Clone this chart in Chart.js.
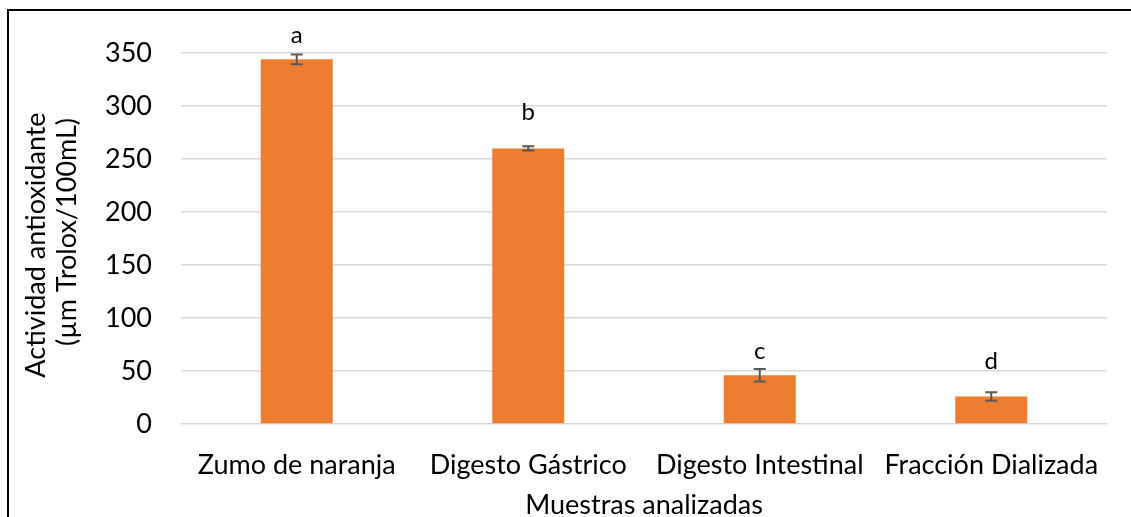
<!DOCTYPE html>
<html>
<head>
<meta charset="utf-8">
<script src="https://cdn.jsdelivr.net/npm/chart.js@4/dist/chart.umd.min.js"></script>
<style>
  html, body { margin: 0; padding: 0; background: #fff; overflow: hidden; }
  #wrap { position: relative; width: 1131px; height: 517px; }
  canvas { display: block; }
</style>
</head>
<body>
<div id="wrap"><canvas id="c" width="1131" height="517"></canvas></div>
<script>
// Antioxidant activity of orange juice through in-vitro digestion
const categories = ['Zumo de naranja', 'Digesto Gástrico', 'Digesto Intestinal', 'Fracción Dializada'];
const activity = [344, 260, 46, 26];          // µm Trolox/100mL
const activityError = [4.5, 2, 6, 4];         // ± standard deviation
const groupLetters = ['a', 'b', 'c', 'd'];    // significance groups
const yTicks = [0, 50, 100, 150, 200, 250, 300, 350];

const FONT = 'Lato, "Open Sans", sans-serif';
const FONT_SIZE = 27;
const TEXT = '#000000';

// error whiskers + significance letters drawn over each bar
const barExtras = {
  id: 'barExtras',
  afterDatasetsDraw(chart, args, opts) {
    const { ctx } = chart;
    const y = chart.scales.y;
    const meta = chart.getDatasetMeta(0);
    ctx.save();
    meta.data.forEach((bar, i) => {
      const v = activity[i], e = activityError[i];
      const top = y.getPixelForValue(v + e);
      const bot = y.getPixelForValue(v - e);
      const x = bar.x;
      ctx.strokeStyle = '#595959';
      ctx.lineWidth = 2;
      ctx.beginPath();
      ctx.moveTo(x, top); ctx.lineTo(x, bot);
      ctx.moveTo(x - 6, top); ctx.lineTo(x + 6, top);
      ctx.moveTo(x - 6, bot); ctx.lineTo(x + 6, bot);
      ctx.stroke();
      ctx.fillStyle = TEXT;
      ctx.font = '24px ' + FONT;
      ctx.textAlign = 'center';
      ctx.textBaseline = 'middle';
      ctx.fillText(groupLetters[i], x, bar.y - opts.lift[i]);
    });
    ctx.restore();
  }
};

// axis titles and outer frame
const chartDecor = {
  id: 'chartDecor',
  afterDraw(chart) {
    const { ctx, chartArea } = chart;
    ctx.save();
    ctx.fillStyle = TEXT;
    ctx.font = FONT_SIZE + 'px ' + FONT;
    ctx.textAlign = 'center';
    ctx.textBaseline = 'middle';
    ctx.fillText('Muestras analizadas', (chartArea.left + chartArea.right) / 2, 505);
    ctx.translate(36, 245);
    ctx.rotate(-Math.PI / 2);
    ctx.fillText('Actividad antioxidante', 0, 0);
    ctx.rotate(Math.PI / 2);
    ctx.translate(31, -13);
    ctx.rotate(-Math.PI / 2);
    ctx.fillText('(µm Trolox/100mL)', 0, 0);
    ctx.restore();
    ctx.save();
    ctx.strokeStyle = '#000';
    ctx.lineWidth = 2;
    ctx.strokeRect(8, 10, 1200, 600);
    ctx.restore();
  }
};

new Chart(document.getElementById('c'), {
  type: 'bar',
  data: {
    labels: categories,
    datasets: [{
      data: activity,
      backgroundColor: '#ED7D31',
      borderWidth: 0,
      barPercentage: 0.311,
      categoryPercentage: 1
    }]
  },
  options: {
    responsive: false,
    animation: false,
    layout: { padding: { left: 0, right: 24, top: 53, bottom: 0 } },
    plugins: {
      legend: { display: false },
      tooltip: { enabled: false },
      barExtras: { lift: [24, 36, 24, 35] }
    },
    scales: {
      x: {
        grid: { display: false, drawTicks: false },
        border: { display: false },
        ticks: { color: TEXT, font: { family: FONT, size: FONT_SIZE }, padding: 25, maxRotation: 0, autoSkip: false },
        afterFit(s) { s.height = 93; }
      },
      y: {
        min: 0, max: 350,
        afterBuildTicks(s) { s.ticks = yTicks.map(v => ({ value: v })); },
        grid: { color: '#D9D9D9', lineWidth: 1.5, drawTicks: false },
        border: { display: false },
        ticks: { color: TEXT, font: { family: FONT, size: FONT_SIZE }, padding: 29 },
        afterFit(s) { s.width = 181; }
      }
    }
  },
  plugins: [barExtras, chartDecor]
});
</script>
</body>
</html>
